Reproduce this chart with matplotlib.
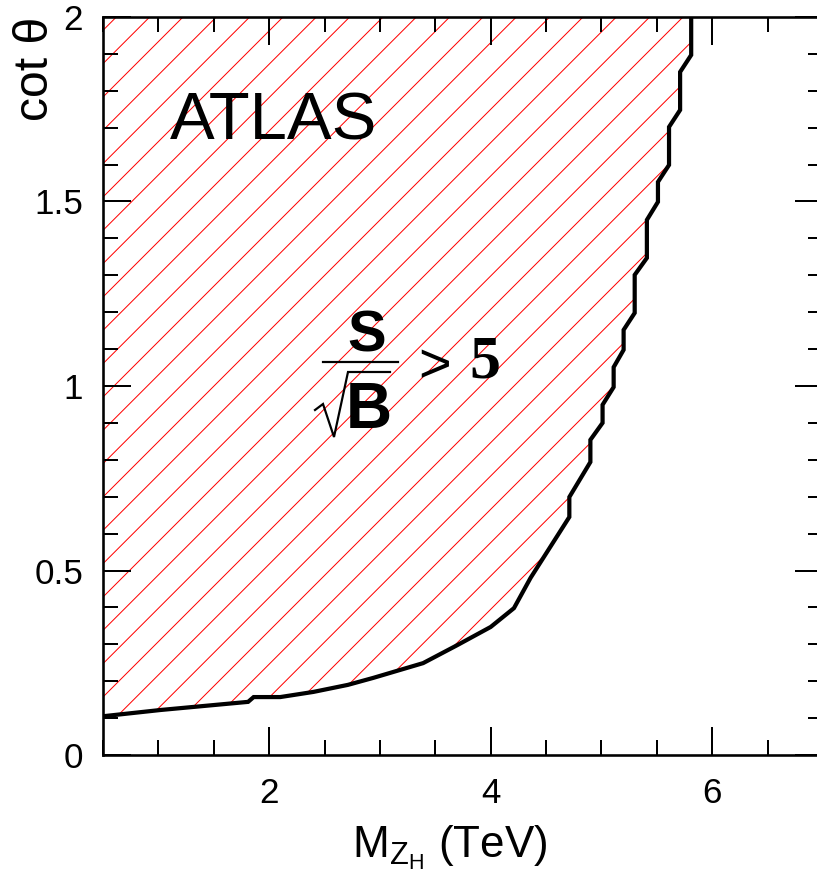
import matplotlib
matplotlib.use("Agg")
import matplotlib.pyplot as plt
from matplotlib.lines import Line2D
from matplotlib.ticker import MultipleLocator, FixedLocator

# ---------------- data ----------------
# 5-sigma discovery contour: M_ZH (TeV) vs cot(theta)
mass_tev = [0.50, 1.02, 1.81, 1.86, 2.10, 2.40, 2.71, 2.94, 3.39, 3.70, 4.00,
            4.21, 4.36, 4.71, 4.71, 4.90, 4.90, 5.01, 5.01, 5.11, 5.11, 5.20,
            5.20, 5.30, 5.30, 5.41, 5.41, 5.51, 5.51, 5.61, 5.61, 5.71, 5.71,
            5.81, 5.81]
cot_theta = [0.105, 0.122, 0.144, 0.157, 0.157, 0.171, 0.190, 0.209, 0.249,
             0.298, 0.347, 0.398, 0.480, 0.645, 0.699, 0.794, 0.854, 0.900,
             0.949, 0.997, 1.051, 1.098, 1.152, 1.198, 1.301, 1.347, 1.450,
             1.499, 1.553, 1.599, 1.702, 1.748, 1.851, 1.897, 2.000]
x_range = (0.5, 7.0)
y_range = (0.0, 2.0)
x_major = [2, 4, 6]
x_major_labels = ["2", "4", "6"]
y_major = [0, 0.5, 1, 1.5, 2]
y_major_labels = ["0", "0.5", "1", "1.5", "2"]

# ---------------- style ----------------
plt.rcParams["font.family"] = ["Liberation Sans", "DejaVu Sans"]
plt.rcParams["mathtext.fontset"] = "custom"
plt.rcParams["mathtext.rm"] = "Liberation Sans"
plt.rcParams["mathtext.it"] = "Liberation Sans:italic"
plt.rcParams["mathtext.bf"] = "Liberation Sans:bold"

W, H, DPI = 817, 877, 100


def pt(px):
    """pixels -> points at the figure dpi"""
    return px * 72.0 / DPI


plt.rcParams["hatch.linewidth"] = pt(1.0)

fig = plt.figure(figsize=(W / DPI, H / DPI), dpi=DPI)
ax = fig.add_axes([103 / W, (H - 755) / H, 720 / W, 738 / H])
ax.set_xlim(*x_range)
ax.set_ylim(*y_range)

# hatched region (upper-left of contour)
poly_x = mass_tev + [x_range[0]]
poly_y = cot_theta + [y_range[1]]
ax.fill(poly_x, poly_y, facecolor="none", edgecolor="red", linewidth=0,
        hatch="/")
ax.plot(mass_tev, cot_theta, color="black", linewidth=pt(4.2),
        solid_joinstyle="miter")

# axes & ticks
for s in ax.spines.values():
    s.set_linewidth(pt(2.6))
ax.xaxis.set_major_locator(FixedLocator(x_major))
ax.set_xticklabels(x_major_labels)
ax.xaxis.set_minor_locator(MultipleLocator(0.5))
ax.yaxis.set_major_locator(FixedLocator(y_major))
ax.set_yticklabels(y_major_labels)
ax.yaxis.set_minor_locator(MultipleLocator(0.1))
ax.tick_params(which="both", direction="in", top=True, right=True,
               width=pt(2.0), labelsize=pt(35))
ax.tick_params(which="major", length=pt(28))
ax.tick_params(which="minor", length=pt(15))
ax.tick_params(axis="x", pad=pt(22))
ax.tick_params(axis="y", pad=pt(20))

# axis titles
fig.text(35 / W, 1 - 69 / H, "cot θ", rotation=90, fontsize=pt(48),
         ha="center", va="center")
fig.text(352 / W, 1 - 858 / H, r"$\mathregular{M_{Z_H}}$ (TeV)",
         fontsize=pt(44), ha="left", va="baseline")

# annotations
ax.text(1.1, 1.715, "ATLAS", fontsize=pt(67), ha="left", va="center")

# S / sqrt(B) > 5 , built from pieces
fig.text(367 / W, 1 - 337 / H, "S", fontsize=pt(58), fontweight="bold",
         ha="center", va="center")
fig.add_artist(Line2D([323 / W, 398 / W], [1 - 362 / H, 1 - 362 / H],
                      transform=fig.transFigure, color="black",
                      linewidth=pt(2.2)))
fig.add_artist(Line2D([315 / W, 323 / W, 334 / W, 348 / W, 390 / W],
                      [1 - 410 / H, 1 - 404 / H, 1 - 437 / H, 1 - 372 / H,
                       1 - 372 / H],
                      transform=fig.transFigure, color="black",
                      linewidth=pt(2.2), solid_joinstyle="miter"))
fig.text(369 / W, 1 - 411 / H, "B", fontsize=pt(64), fontweight="bold",
         ha="center", va="center")
fig.text(435 / W, 1 - 368 / H, ">", fontsize=pt(56), ha="center",
         va="center")
fig.text(485 / W, 1 - 362 / H, "5", fontsize=pt(62), fontweight="bold",
         family="Liberation Serif", ha="center", va="center")

fig.savefig("out.png", dpi=DPI)
